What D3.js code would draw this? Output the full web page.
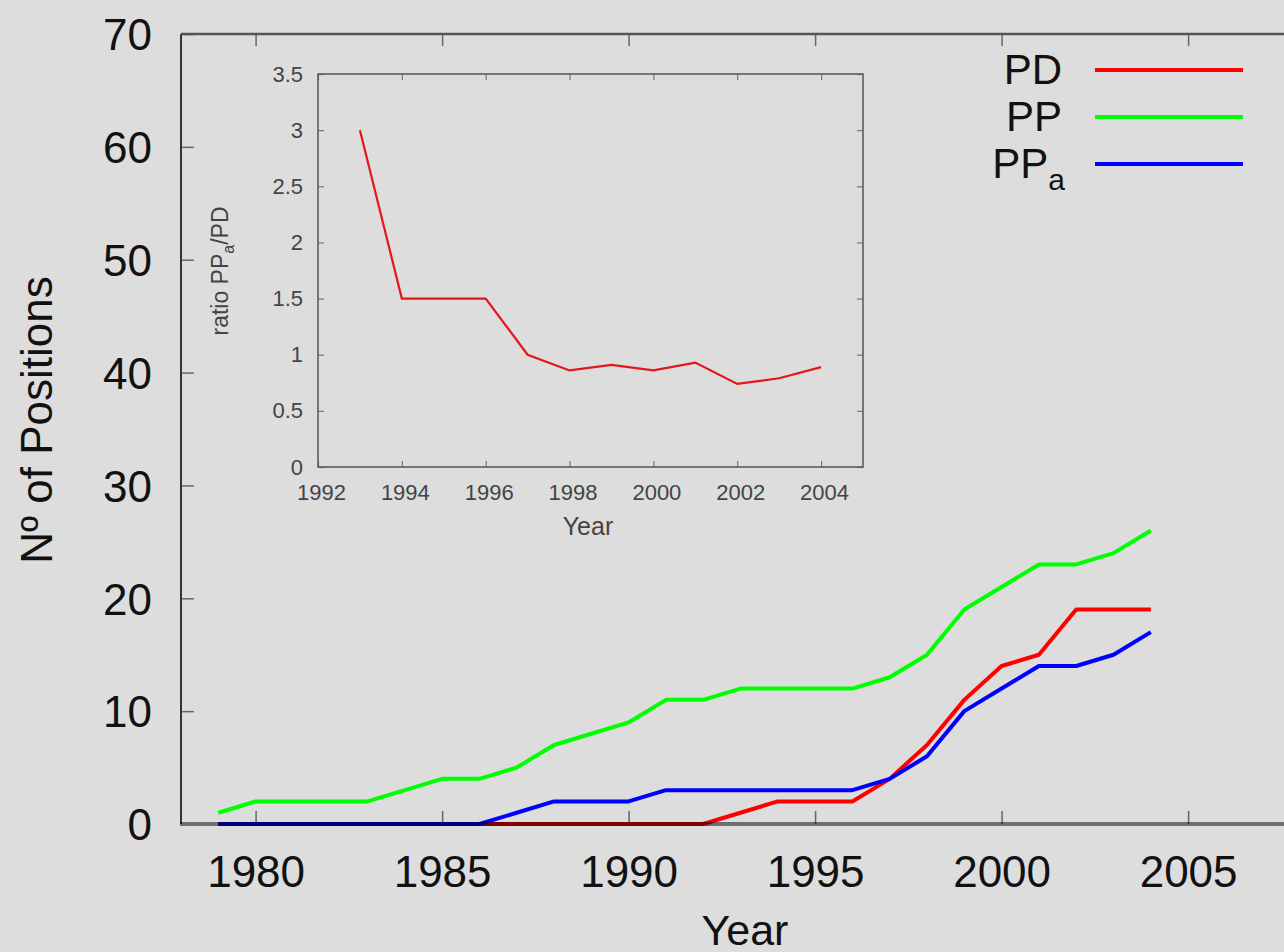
<!DOCTYPE html>
<html>
<head>
<meta charset="utf-8">
<script src="https://cdn.jsdelivr.net/npm/d3@7"></script>
<style>
  body { margin: 0; background: #dddddd; }
  svg { display: block; font-family: "Liberation Sans", Arial, sans-serif; }
</style>
</head>
<body>
<div id="viz_area"></div>
<script>
// main chart data
var years = [1979, 1980, 1981, 1982, 1983, 1984, 1985, 1986, 1987, 1988, 1989, 1990, 1991,
             1992, 1993, 1994, 1995, 1996, 1997, 1998, 1999, 2000, 2001, 2002, 2003, 2004];
var pdValues  = [0, 0, 0, 0, 0, 0, 0, 0, 0, 0, 0, 0, 0, 0, 1, 2, 2, 2, 4, 7, 11, 14, 15, 19, 19, 19];
var ppValues  = [1, 2, 2, 2, 2, 3, 4, 4, 5, 7, 8, 9, 11, 11, 12, 12, 12, 12, 13, 15, 19, 21, 23, 23, 24, 26];
var ppaValues = [0, 0, 0, 0, 0, 0, 0, 0, 1, 2, 2, 2, 3, 3, 3, 3, 3, 3, 4, 6, 10, 12, 14, 14, 15, 17];
var xTicks = [1980, 1985, 1990, 1995, 2000, 2005];
var yTicks = [0, 10, 20, 30, 40, 50, 60, 70];

// inset data
var ratioYears  = [1993, 1994, 1995, 1996, 1997, 1998, 1999, 2000, 2001, 2002, 2003, 2004];
var ratioValues = [3, 1.5, 1.5, 1.5, 1.0, 0.86, 0.91, 0.86, 0.93, 0.74, 0.79, 0.89];
var insetXTicks = [1992, 1994, 1996, 1998, 2000, 2002, 2004];
var insetYTicks = [0, 0.5, 1, 1.5, 2, 2.5, 3, 3.5];

var series = [
    { name: "PD",  sub: "",  values: pdValues,  color: "#ff0000" },
    { name: "PP",  sub: "",  values: ppValues,  color: "#00ff00" },
    { name: "PP",  sub: "a", values: ppaValues, color: "#0000ff" }
];

function __init__() {
    var w = 1284;
    var h = 952;

    var svg = d3.select("#viz_area")
                .append("svg")
                .attr("width", w)
                .attr("height", h);

    svg.append("rect").attr("width", w).attr("height", h).attr("fill", "#dddddd");

    mainChart(svg);
    insetChart(svg);
}

function mainChart(svg) {
    var left = 181, top = 34, bottom = 824;

    var x = d3.scaleLinear().domain([1978, 2008]).range([left, left + 30 * 37.3]);
    var y = d3.scaleLinear().domain([0, 70]).range([bottom, top]);

    // ticks (inward, on all visible sides)
    var yAxis = svg.append("g")
                   .attr("transform", "translate(" + left + ",0)")
                   .call(d3.axisLeft(y).tickValues(yTicks).tickSize(-13).tickPadding(29));
    var xAxis = svg.append("g")
                   .attr("transform", "translate(0," + bottom + ")")
                   .call(d3.axisBottom(x).tickValues(xTicks).tickSize(-13).tickPadding(32)
                           .tickFormat(d3.format("d")));
    var xTop = svg.append("g")
                  .attr("transform", "translate(0," + top + ")")
                  .call(d3.axisTop(x).tickValues(xTicks).tickSize(-12).tickFormat(""));

    [yAxis, xAxis, xTop].forEach(function(a) {
        a.select(".domain").remove();
        a.selectAll(".tick line").attr("stroke", "#666").attr("stroke-width", 1.5);
        a.selectAll(".tick text")
         .attr("fill", "#111")
         .style("font-size", "44px")
         .style("font-family", "'Liberation Sans', Arial, sans-serif");
    });
    yAxis.selectAll(".tick text").attr("dy", "0.36em");
    yAxis.select(".tick line").remove(); // no tick at the bottom corner

    // left and top border
    svg.append("line").attr("x1", left).attr("x2", left).attr("y1", top).attr("y2", bottom)
       .attr("stroke", "#333").attr("stroke-width", 2);
    svg.append("line").attr("x1", left).attr("x2", 1284).attr("y1", top).attr("y2", top)
       .attr("stroke", "#555").attr("stroke-width", 2.5);

    var line = d3.line()
                 .x(function(d) { return x(d[0]); })
                 .y(function(d) { return y(d[1]); });

    series.forEach(function(s) {
        svg.append("path")
           .datum(years.map(function(yr, i) { return [yr, s.values[i]]; }))
           .attr("d", line)
           .attr("fill", "none")
           .attr("stroke", s.color)
           .attr("stroke-width", 4)
           .attr("stroke-linejoin", "round");
    });

    // bottom border drawn over the lines (makes the zero segments darker)
    svg.append("line").attr("x1", left - 1).attr("x2", 1284).attr("y1", bottom).attr("y2", bottom)
       .attr("stroke", "#000").attr("stroke-opacity", 0.5).attr("stroke-width", 4);

    // axis titles
    svg.append("text")
       .attr("x", 745).attr("y", 945)
       .attr("text-anchor", "middle")
       .style("font-size", "43px").attr("fill", "#111")
       .text("Year");
    svg.append("text")
       .attr("transform", "translate(52,420) rotate(-90)")
       .attr("text-anchor", "middle")
       .style("font-size", "44px").attr("fill", "#111")
       .text("N\u00ba of Positions");

    // legend
    var legendY = [70, 117, 164];
    series.forEach(function(s, i) {
        var t = svg.append("text")
                   .attr("x", s.sub ? 1065 : 1062)
                   .attr("y", legendY[i] + 14)
                   .attr("text-anchor", "end")
                   .style("font-size", "42px").attr("fill", "#111");
        t.append("tspan").text(s.name);
        if (s.sub) {
            t.append("tspan").attr("dy", 12).style("font-size", "30px").text(s.sub);
        }
        svg.append("line")
           .attr("x1", 1095).attr("x2", 1243)
           .attr("y1", legendY[i]).attr("y2", legendY[i])
           .attr("stroke", s.color).attr("stroke-width", 4);
    });
}

function insetChart(svg) {
    var left = 318, right = 863, top = 74, bottom = 467;

    var x = d3.scaleLinear().domain([1992, 2005]).range([left, right]);
    var y = d3.scaleLinear().domain([0, 3.5]).range([bottom, top]);

    var g = svg.append("g");

    var axes = [
        g.append("g").attr("transform", "translate(" + left + ",0)")
         .call(d3.axisLeft(y).tickValues(insetYTicks).tickSize(-6).tickPadding(15)
                 .tickFormat(d3.format("~g"))),
        g.append("g").attr("transform", "translate(" + right + ",0)")
         .call(d3.axisRight(y).tickValues(insetYTicks).tickSize(-6).tickFormat("")),
        g.append("g").attr("transform", "translate(0," + bottom + ")")
         .call(d3.axisBottom(x).tickValues(insetXTicks).tickSize(-6).tickPadding(17)
                 .tickFormat(d3.format("d"))),
        g.append("g").attr("transform", "translate(0," + top + ")")
         .call(d3.axisTop(x).tickValues(insetXTicks).tickSize(-6).tickFormat(""))
    ];
    axes.forEach(function(a) {
        a.select(".domain").remove();
        a.selectAll(".tick line").attr("stroke", "#777").attr("stroke-width", 1.2);
        a.selectAll(".tick text")
         .attr("fill", "#444")
         .style("font-size", "22px")
         .style("font-family", "'Liberation Sans', Arial, sans-serif");
    });
    axes[2].selectAll(".tick text").attr("dx", 3);

    g.append("rect")
     .attr("x", left).attr("y", top)
     .attr("width", right - left).attr("height", bottom - top)
     .attr("fill", "none").attr("stroke", "#555").attr("stroke-width", 1.5);

    var line = d3.line()
                 .x(function(d) { return x(d[0]); })
                 .y(function(d) { return y(d[1]); });

    g.append("path")
     .datum(ratioYears.map(function(yr, i) { return [yr, ratioValues[i]]; }))
     .attr("d", line)
     .attr("fill", "none")
     .attr("stroke", "#e01818")
     .attr("stroke-width", 2.2);

    g.append("text")
     .attr("x", 588).attr("y", 535)
     .attr("text-anchor", "middle")
     .style("font-size", "25px").attr("fill", "#444")
     .text("Year");

    var yl = g.append("text")
              .attr("transform", "translate(228,271) rotate(-90)")
              .attr("text-anchor", "middle")
              .style("font-size", "23px").attr("fill", "#444");
    yl.append("tspan").text("ratio PP");
    yl.append("tspan").attr("dy", 6).style("font-size", "16px").text("a");
    yl.append("tspan").attr("dy", -6).text("/PD");
}

window.onload = __init__;
</script>
</body>
</html>
